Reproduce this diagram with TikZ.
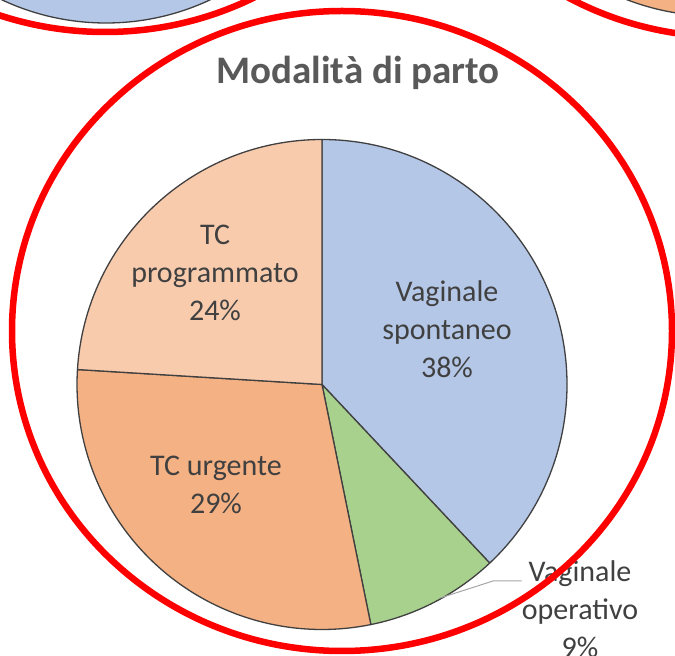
\documentclass[tikz,border=0pt]{standalone}
\usepackage{fontspec}
\setmainfont{Carlito}
\usepackage{tikz}
\definecolor{vspont}{HTML}{B4C7E7}
\definecolor{voper}{HTML}{A9D18E}
\definecolor{tcurg}{HTML}{F4B183}
\definecolor{tcprog}{HTML}{F8CBAD}
\definecolor{pieline}{HTML}{404040}
\definecolor{labtext}{HTML}{404040}
\definecolor{titletext}{HTML}{595959}
\definecolor{leadline}{HTML}{A6A6A6}
\tikzset{
  slice/.style={draw=pieline, line width=1.3pt, line join=round},
  ring/.style={draw=red, line width=6.5pt},
  lab/.style={align=center, text=labtext, font=\fontsize{30}{38}\selectfont, inner sep=0pt},
}

\begin{document}
\begin{tikzpicture}[x=1pt,y=1pt]
\useasboundingbox (0,0) rectangle (675,656);
\clip (0,0) rectangle (675,656);
% charts next to this one
\filldraw[slice, fill=vspont] (106,878) circle (245pt);
\filldraw[slice, fill=tcurg] (715,885) circle (245pt);
% main pie
\coordinate (O) at (322,271.5);
\filldraw[slice, fill=vspont] (O) -- ++(90:245pt) arc (90:-46.8:245pt) -- cycle;
\filldraw[slice, fill=voper] (O) -- ++(-46.8:245pt) arc (-46.8:-78.5:245pt) -- cycle;
\filldraw[slice, fill=tcurg] (O) -- ++(-78.5:245pt) arc (-78.5:-183.5:245pt) -- cycle;
\filldraw[slice, fill=tcprog] (O) -- ++(176.5:245pt) arc (176.5:90:245pt) -- cycle;
\node (title) at (358,583) [text=titletext, font=\bfseries\fontsize{39}{47}\selectfont] {Modalità di parto};
\node (vs) at (447,327) [lab] {Vaginale\\spontaneo\\38\%};
\node (tp) at (215,383) [lab] {TC\\programmato\\24\%};
\node (tu) at (216,171) [lab] {TC urgente\\29\%};
\node (vo) at (580,47) [lab] {Vaginale\\operativo\\9\%};
\coordinate (vopie) at (440,58);
\coordinate (vobend) at (493,75);
\draw[color=leadline, line width=1pt] (vopie) -- (vobend) -- (vo.west |- vobend);
% red rings
\draw[ring] (105,944) ellipse [x radius=330pt, y radius=320pt];
\draw[ring] (727,939) ellipse [x radius=330pt, y radius=320pt];
\draw[ring] (342,325) ellipse [x radius=330pt, y radius=320pt];
\end{tikzpicture}
\end{document}
